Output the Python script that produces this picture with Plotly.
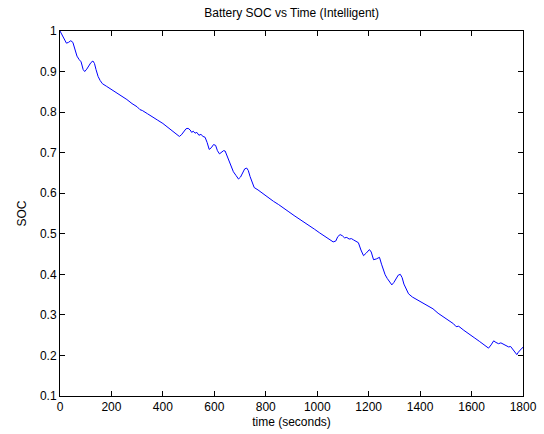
import plotly.graph_objects as go

time_s = [0, 8, 16, 25, 33, 42, 50, 58, 66, 74, 82, 90, 96, 104, 112, 120, 128, 134, 140, 148, 156, 165,
          180, 200, 220, 240, 260, 280, 300, 311, 320, 340, 360, 380, 400, 420, 440, 455, 464, 472, 482, 490,
          498, 506, 512, 518, 525, 532, 540, 548, 556, 564, 572, 580, 588, 597, 605, 612, 620, 628, 636, 642,
          650, 659, 667, 674, 684, 694, 702, 710, 718, 726, 732, 739, 747, 755, 770, 790, 810, 830, 850, 870,
          890, 910, 930, 950, 970, 990, 1010, 1030, 1050, 1062, 1072, 1080, 1089, 1098, 1106, 1115, 1124, 1133,
          1141, 1150, 1160, 1170, 1180, 1190, 1203, 1210, 1219, 1230, 1242, 1250, 1258, 1264, 1272, 1282, 1290,
          1298, 1306, 1315, 1323, 1330, 1337, 1346, 1355, 1370, 1390, 1410, 1430, 1450, 1470, 1490, 1510, 1530,
          1540, 1550, 1570, 1590, 1610, 1630, 1650, 1666, 1676, 1686, 1695, 1705, 1714, 1724, 1734, 1744, 1752,
          1761, 1768, 1776, 1782, 1789, 1796, 1800]
soc = [1.000, 0.990, 0.978, 0.970, 0.972, 0.976, 0.972, 0.955, 0.938, 0.930, 0.924, 0.905, 0.900, 0.906,
       0.914, 0.922, 0.926, 0.920, 0.905, 0.888, 0.878, 0.870,
       0.864, 0.856, 0.848, 0.838, 0.831, 0.821, 0.813, 0.806, 0.804, 0.796, 0.789, 0.780, 0.772, 0.762,
       0.753, 0.745, 0.740, 0.744, 0.754, 0.759,
       0.760, 0.756, 0.750, 0.753, 0.748, 0.750, 0.743, 0.745, 0.740, 0.738, 0.725, 0.708, 0.712, 0.720,
       0.718, 0.705, 0.697, 0.700, 0.705, 0.704,
       0.690, 0.674, 0.660, 0.653, 0.644, 0.635, 0.640, 0.650, 0.660, 0.662, 0.656, 0.641, 0.625, 0.614,
       0.608, 0.598, 0.590, 0.580, 0.572, 0.562,
       0.554, 0.545, 0.537, 0.529, 0.519, 0.511, 0.502, 0.493, 0.484, 0.480, 0.482, 0.493, 0.498, 0.495,
       0.490, 0.491, 0.487, 0.488,
       0.485, 0.482, 0.478, 0.460, 0.446, 0.452, 0.461, 0.455, 0.436, 0.438, 0.442, 0.425, 0.408, 0.399,
       0.390, 0.380, 0.374,
       0.380, 0.390, 0.398, 0.400, 0.392, 0.376, 0.362, 0.352, 0.344, 0.337, 0.330, 0.322, 0.315, 0.304,
       0.295, 0.285, 0.278,
       0.271, 0.272, 0.262, 0.252, 0.244, 0.235, 0.226, 0.218, 0.226, 0.236, 0.232, 0.229, 0.231, 0.227,
       0.225, 0.221, 0.222,
       0.214, 0.210, 0.202, 0.208, 0.214, 0.218, 0.220]

x_ticks = [0, 200, 400, 600, 800, 1000, 1200, 1400, 1600, 1800]
y_ticks = [0.1, 0.2, 0.3, 0.4, 0.5, 0.6, 0.7, 0.8, 0.9, 1.0]
y_tick_text = ["0.1", "0.2", "0.3", "0.4", "0.5", "0.6", "0.7", "0.8", "0.9", "1"]

fig = go.Figure()
fig.add_trace(go.Scatter(x=time_s, y=soc, mode="lines",
                         line=dict(color="#0000ff", width=1), showlegend=False))

font = dict(family="Liberation Sans, Arial, Helvetica, sans-serif", size=12, color="black")
axis_common = dict(showline=True, linecolor="black", linewidth=1, mirror="allticks",
                   ticks="inside", ticklen=5, tickcolor="black", tickwidth=1,
                   showgrid=False, zeroline=False, tickfont=font, automargin=False)

fig.update_layout(
    width=544, height=434,
    margin=dict(l=60, r=21, t=31, b=38, autoexpand=False),
    paper_bgcolor="white", plot_bgcolor="white",
    font=font,
    title=dict(text="Battery SOC vs Time (Intelligent)", x=0.536, xanchor="center",
               y=1 - 13 / 434, yanchor="middle", yref="container", font=font),
    xaxis=dict(range=[0, 1800], tickvals=x_ticks, ticktext=[str(v) for v in x_ticks],
               title=dict(text="time (seconds)", font=font, standoff=4), **axis_common),
    yaxis=dict(range=[0.1, 1.0], tickvals=y_ticks, ticktext=y_tick_text,
               title=dict(text="SOC", font=font, standoff=10), **axis_common),
)

fig.write_html("out.html")
